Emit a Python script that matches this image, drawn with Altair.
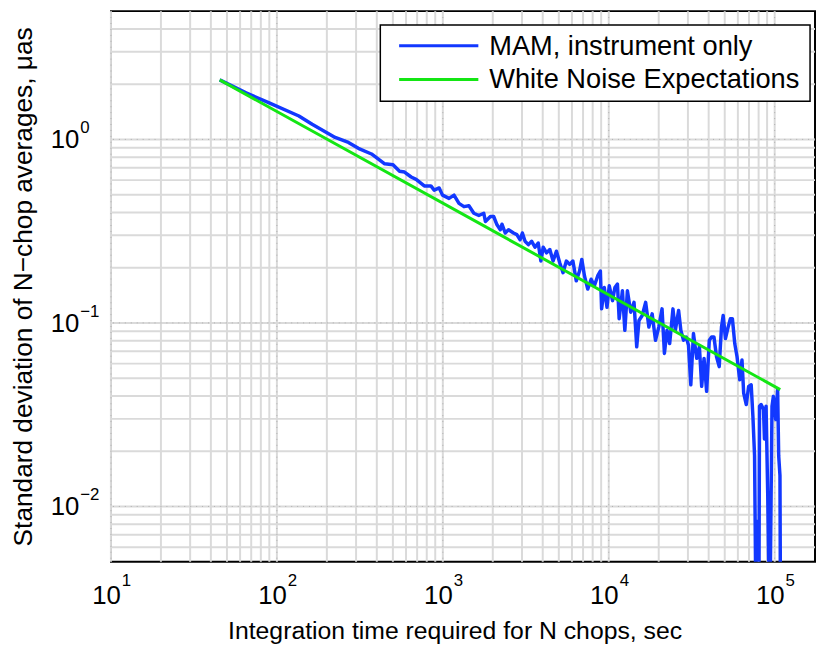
import altair as alt
import pandas as pd

# ---------------- data ----------------
mam_t = [45.2, 65.2, 89.8, 135.7, 163, 224.4, 269.8, 309.6, 371.5, 446.2,
         500.9, 548.3, 587.5, 644.2, 690.1, 773, 847.2, 887, 950.6, 995.7,
         1090, 1168, 1251, 1341, 1436, 1538, 1648, 1765, 1806, 1935,
         2025, 2121, 2220, 2272, 2377, 2488, 2666, 2793, 2922, 3016,
         3130, 3276, 3432, 3592, 3757, 3899, 4025, 4218, 4414, 4619,
         4839, 5064, 5300, 5554, 5811, 6080, 6372, 6666, 6880, 7140,
         7470, 7829, 8193, 8574, 8899, 9058, 9399, 9757, 10070, 10540,
         10890, 11280, 11550, 12090, 12500, 12950, 13570, 14200, 14740, 15210,
         15910, 16680, 17450, 18260, 19130, 20020, 20950, 21650, 22440, 23290,
         24370, 25190, 26360, 27200, 28230, 29300, 30240, 31220, 32390, 33890,
         35180, 36310, 37520, 38890, 40360, 41660, 43060, 44620, 46310, 47800,
         48930, 50500, 52410, 54090, 55610, 57460, 59310, 61560, 63530, 65030,
         67420, 69670, 72180, 73900, 75640, 77330, 79150, 80250, 81020, 82820,
         85600, 86790, 88730, 90820, 93340, 96360, 98230, 101400, 104200, 105700,
         107600, 108500]
mam_v = [2.11, 1.792, 1.583, 1.342, 1.209, 1.025, 0.963, 0.894, 0.833, 0.736,
         0.727, 0.670, 0.664, 0.624, 0.606, 0.558, 0.558, 0.529, 0.544, 0.497,
         0.477, 0.497, 0.448, 0.430, 0.435, 0.396, 0.385, 0.396, 0.357, 0.380,
         0.380, 0.3425, 0.322, 0.345, 0.309, 0.322, 0.309, 0.303, 0.284, 0.309,
         0.2785, 0.267, 0.2785, 0.2585, 0.2726, 0.2173, 0.2585, 0.2408, 0.2512, 0.2173,
         0.246, 0.2127, 0.1879, 0.2173, 0.2085, 0.2173, 0.1695, 0.1919, 0.2219, 0.1803,
         0.1529, 0.1731, 0.1593, 0.1803, 0.1919, 0.1193, 0.156, 0.1217, 0.1593, 0.1322,
         0.156, 0.1627, 0.1054, 0.1497, 0.0911, 0.1497, 0.1143, 0.1295, 0.0741, 0.1031,
         0.1098, 0.1295, 0.0949, 0.1121, 0.0805, 0.0949, 0.1193, 0.0682, 0.0911, 0.0772,
         0.1193, 0.0911, 0.1168, 0.0911, 0.0805, 0.0838, 0.0756, 0.046, 0.0875, 0.0641,
         0.0741, 0.0451, 0.0641, 0.0424, 0.0805, 0.0838, 0.0838, 0.0654, 0.0578, 0.0949,
         0.1098, 0.0822, 0.0949, 0.1054, 0.1054, 0.0772, 0.0654, 0.049, 0.0628, 0.0415,
         0.0359, 0.0451, 0.046, 0.0311, 0.0189, 0.002, 0.0083, 0.002, 0.0352, 0.0359,
         0.0338, 0.0233, 0.0352, 0.0115, 0.002, 0.0352, 0.0398, 0.0298, 0.0433, 0.0189,
         0.0147, 0.002]

white_t = [45.2, 108000]
white_v = [2.11, 0.0433]

series_names = ["MAM, instrument only", "White Noise Expectations"]
series_colors = ["#1238ff", "#14e614"]

x_major = [10, 100, 1000, 10000, 100000]
x_major_exp = ["1", "2", "3", "4", "5"]
x_minor = [20, 30, 40, 50, 60, 70, 80, 90,
           200, 300, 400, 500, 600, 700, 800, 900,
           2000, 3000, 4000, 5000, 6000, 7000, 8000, 9000,
           20000, 30000, 40000, 50000, 60000, 70000, 80000, 90000]
y_major = [1, 0.1, 0.01]
y_major_exp = ["0", "\u22121", "\u22122"]
y_minor = [0.006, 0.007, 0.008, 0.009,
           0.02, 0.03, 0.04, 0.05, 0.06, 0.07, 0.08, 0.09,
           0.2, 0.3, 0.4, 0.5, 0.6, 0.7, 0.8, 0.9,
           2, 3, 4]

x_title = "Integration time required for N chops, sec"
y_title = "Standard deviation of N\u2212chop averages, \u03bcas"

# ---------------- chart ----------------
W, H = 711, 556
FONT = "Liberation Sans"
GRID = "#dadada"

xs = alt.Scale(type="log", domain=[10, 175000], nice=False)
ys = alt.Scale(type="log", domain=[0.005, 5], nice=False)

df_mam = pd.DataFrame({"t": mam_t, "v": mam_v})
df_white = pd.DataFrame({"t": white_t, "v": white_v})
df_xmin = pd.DataFrame({"t": x_minor})
df_xmaj = pd.DataFrame({"t": x_major, "e": x_major_exp})
df_ymin = pd.DataFrame({"v": y_minor})
df_ymaj = pd.DataFrame({"v": y_major, "e": y_major_exp})
one = pd.DataFrame({"k": [0]})

grid_xmin = alt.Chart(df_xmin).mark_rule(color=GRID, strokeWidth=2).encode(
    x=alt.X("t:Q", scale=xs, axis=None))
grid_ymin = alt.Chart(df_ymin).mark_rule(color=GRID, strokeWidth=2).encode(
    y=alt.Y("v:Q", scale=ys, axis=None))
grid_xmaj = alt.Chart(df_xmaj).mark_rule(color=GRID, strokeWidth=2).encode(
    x=alt.X("t:Q", scale=xs, axis=None))
grid_ymaj = alt.Chart(df_ymaj).mark_rule(color=GRID, strokeWidth=2).encode(
    y=alt.Y("v:Q", scale=ys, axis=None))
grid_xmaj_dot = alt.Chart(df_xmaj).mark_rule(color="#b0b0b0", strokeWidth=1,
                                             strokeDash=[1, 5]).encode(
    x=alt.X("t:Q", scale=xs, axis=None))
grid_ymaj_dot = alt.Chart(df_ymaj).mark_rule(color="#b0b0b0", strokeWidth=1,
                                             strokeDash=[1, 5]).encode(
    y=alt.Y("v:Q", scale=ys, axis=None))

line_mam = alt.Chart(df_mam).mark_line(color=series_colors[0], strokeWidth=3.5,
                                       clip=True, strokeJoin="round").encode(
    x=alt.X("t:Q", scale=xs, axis=None),
    y=alt.Y("v:Q", scale=ys, axis=None))
line_white = alt.Chart(df_white).mark_line(color=series_colors[1], strokeWidth=3,
                                           clip=True).encode(
    x=alt.X("t:Q", scale=xs, axis=None),
    y=alt.Y("v:Q", scale=ys, axis=None))

# tick labels (10 with superscript exponent)
xlab_base = alt.Chart(df_xmaj).mark_text(font=FONT, fontSize=26, align="right",
                                         baseline="middle", dx=10, color="black").encode(
    x=alt.X("t:Q", scale=xs, axis=None), y=alt.value(H + 35), text=alt.value("10"))
xlab_exp = alt.Chart(df_xmaj).mark_text(font=FONT, fontSize=17, align="left",
                                        baseline="middle", dx=11, color="black").encode(
    x=alt.X("t:Q", scale=xs, axis=None), y=alt.value(H + 20), text="e:N")
ylab_base = alt.Chart(df_ymaj).mark_text(font=FONT, fontSize=26, align="right",
                                         baseline="middle", dy=1, color="black").encode(
    y=alt.Y("v:Q", scale=ys, axis=None), x=alt.value(-32), text=alt.value("10"))
ylab_exp = alt.Chart(df_ymaj).mark_text(font=FONT, fontSize=17, align="left",
                                        baseline="middle", dy=-11, color="black").encode(
    y=alt.Y("v:Q", scale=ys, axis=None), x=alt.value(-31), text="e:N")

xtitle = alt.Chart(one).mark_text(font=FONT, fontSize=25, align="center",
                                  baseline="middle", color="black").encode(
    x=alt.value(W / 2 - 8), y=alt.value(H + 70), text=alt.value(x_title))
ytitle = alt.Chart(one).mark_text(font=FONT, fontSize=26.5, align="center",
                                  baseline="alphabetic", angle=270, color="black").encode(
    x=alt.value(-80), y=alt.value(H / 2 + 0.5), text=alt.value(y_title))

# legend
LX0, LX1, LY0, LY1 = 272, 706, 14, 91
leg_box = alt.Chart(one).mark_rect(fill="white", stroke="black", strokeWidth=1.5).encode(
    x=alt.value(LX0), x2=alt.value(LX1), y=alt.value(LY0), y2=alt.value(LY1))
leg_layers = [leg_box]
for i, (name, col) in enumerate(zip(series_names, series_colors)):
    yy = 35 + 34 * i
    leg_layers.append(alt.Chart(one).mark_rule(color=col, strokeWidth=3).encode(
        x=alt.value(291), x2=alt.value(371), y=alt.value(yy)))
    leg_layers.append(alt.Chart(one).mark_text(font=FONT, fontSize=27.5, align="left",
                                               baseline="middle", color="black").encode(
        x=alt.value(382), y=alt.value(yy + 1), text=alt.value(name)))

chart = alt.layer(
    grid_xmin, grid_ymin, grid_xmaj, grid_ymaj, grid_xmaj_dot, grid_ymaj_dot,
    line_mam, line_white,
    xlab_base, xlab_exp, ylab_base, ylab_exp, xtitle, ytitle,
    *leg_layers
).properties(
    width=W, height=H,
    autosize=alt.AutoSizeParams(type="none"),
    padding={"left": 104, "top": 0, "right": 1, "bottom": 83},
    background="white",
).configure_view(stroke="black", strokeWidth=2)

chart.save("out.html", embed_options={"renderer": "svg", "actions": False})
